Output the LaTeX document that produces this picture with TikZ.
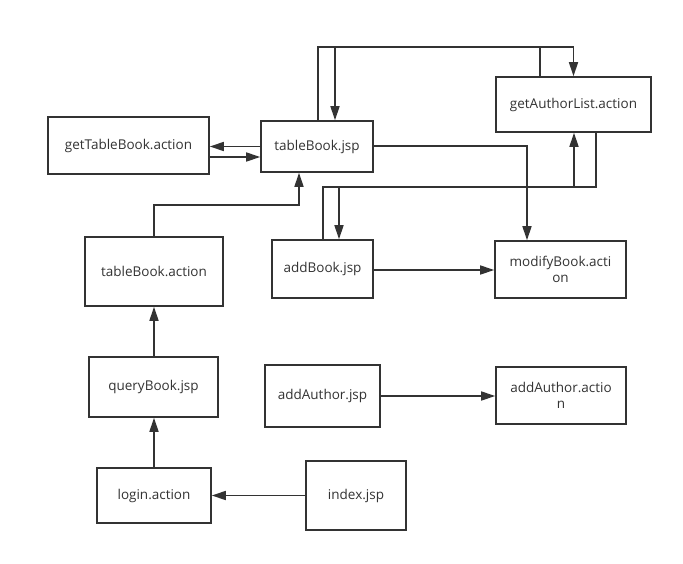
\documentclass[tikz,border=0pt]{standalone}
\usepackage{fontspec}
\setmainfont{Open Sans}
\usetikzlibrary{arrows.meta,calc}
\definecolor{ln}{HTML}{333333}
\definecolor{tx}{HTML}{333333}
\tikzset{
  box/.style={draw=ln, line width=1.6pt, fill=white, inner sep=0pt, align=center, font=\fontsize{13.5}{16}\selectfont, text=tx},
  arr/.style={draw=ln, line width=1.6pt, -{Triangle[length=14pt,width=9pt]}},
}
\begin{document}
\begin{tikzpicture}[x=1pt,y=-1pt]
\path[use as bounding box, fill=white] (0,0) rectangle (683,563);
\node[box, minimum width=112pt, minimum height=51pt] (tbj) at (317,146.5) {tableBook.jsp};
\node[box, minimum width=161pt, minimum height=57pt] (gtb) at (128.5,145.5) {getTableBook.action};
\node[box, minimum width=155pt, minimum height=55pt] (gal) at (573.5,104.5) {getAuthorList.action};
\node[box, minimum width=138pt, minimum height=69pt] (tba) at (154,271.5) {tableBook.action};
\node[box, minimum width=101pt, minimum height=58pt] (ab) at (322.5,269) {addBook.jsp};
\node[box, minimum width=131pt, minimum height=57pt] (mb) at (560.5,269.5) {modifyBook.acti\\on};
\node[box, minimum width=129pt, minimum height=60pt] (qb) at (153.5,387) {queryBook.jsp};
\node[box, minimum width=115pt, minimum height=62pt] (aa) at (322.5,396) {addAuthor.jsp};
\node[box, minimum width=114pt, minimum height=55pt] (la) at (154,495.5) {login.action};
\node[box, minimum width=100pt, minimum height=69pt] (ij) at (356,495.5) {index.jsp};
\node[box, minimum width=130pt, minimum height=57pt] (aac) at (561,395.5) {addAuthor.actio\\n};

\draw[arr] (tbj.west) -- (tbj.west -| gtb.east);
\draw[arr] (gtb.east |- 0,157) -- (tbj.west |- 0,157);
\draw[arr] (tbj.north -| 318,0) -- (318,47) -| (gal.north);
\draw[arr] (gal.north -| 540,0) |- (335,47) -- (tbj.north -| 335,0);
\draw[arr] (tbj.east |- 0,146) -| (mb.north -| 527,0);
\draw[arr] (ab.north -| 323,0) |- (574,187) -- (gal.south -| 574,0);
\draw[arr] (gal.south -| 596,0) |- (339,187) -- (ab.north -| 339,0);
\draw[arr] (tba.north) |- (299,205) -- (tbj.south -| 299,0);
\draw[arr] (ab.east |- 0,270) -- (mb.west |- 0,270);
\draw[arr] (tba.south |- qb.north) -- (tba.south);
\draw[arr] (la.north) -- (qb.south -| la.north);
\draw[arr] (ij.west) -- (la.east);
\draw[arr] (aa.east) -- (aa.east -| aac.west);
\end{tikzpicture}
\end{document}
